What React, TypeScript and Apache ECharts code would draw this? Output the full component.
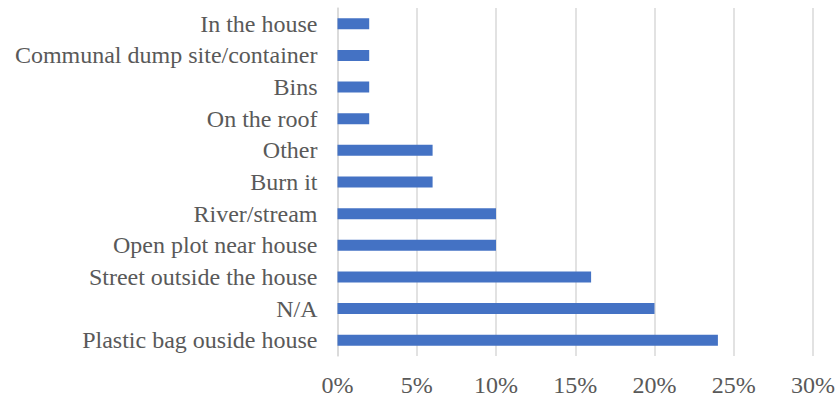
import React, { useEffect, useRef } from "react";
import * as echarts from "echarts";

const categories = [
  "Plastic bag ouside house",
  "N/A",
  "Street outside the house",
  "Open plot near house",
  "River/stream",
  "Burn it",
  "Other",
  "On the roof",
  "Bins",
  "Communal dump site/container",
  "In the house",
];
const values = [24, 20, 16, 10, 10, 6, 6, 2, 2, 2, 2];
const xTicks = [0, 5, 10, 15, 20, 25, 30];

export default function App() {
  const ref = useRef<HTMLDivElement>(null);
  useEffect(() => {
    if (!ref.current) return;
    const chart = echarts.init(ref.current, null, { renderer: "svg" });
    const font = "'Liberation Serif', 'Times New Roman', serif";
    chart.setOption({
      animation: false,
      backgroundColor: "#ffffff",
      grid: { left: 337.5, right: 20.7, top: 8, bottom: 39.7, containLabel: false },
      xAxis: {
        type: "value",
        min: xTicks[0],
        max: xTicks[xTicks.length - 1],
        interval: 5,
        axisLine: { show: false },
        axisTick: { show: false },
        splitLine: { show: true, lineStyle: { color: "#d9d9d9", width: 1.5 } },
        axisLabel: {
          formatter: (v: number) => v + "%",
          color: "#595959",
          fontFamily: font,
          fontSize: 24,
          margin: 17,
        },
      },
      yAxis: {
        type: "category",
        data: categories,
        axisLine: { show: true, lineStyle: { color: "#d9d9d9", width: 1.5 } },
        axisTick: { show: false },
        axisLabel: {
          color: "#595959",
          fontFamily: font,
          fontSize: 24,
          margin: 20,
        },
      },
      series: [
        {
          type: "bar",
          data: values,
          barWidth: 11,
          itemStyle: { color: "#4472c4" },
        },
      ],
    });
    return () => chart.dispose();
  }, []);
  return (
    <div
      ref={ref}
      style={{ position: "absolute", left: 0, top: 0, width: 838, height: 397 }}
    />
  );
}
